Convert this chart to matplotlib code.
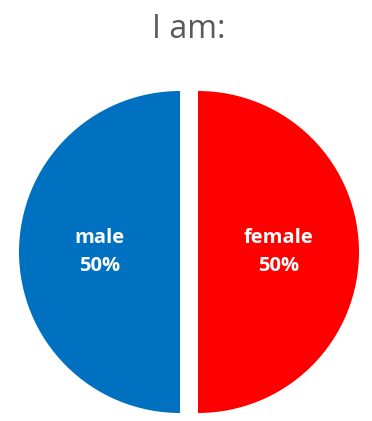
import matplotlib.pyplot as plt

labels = ['male', 'female']
values = [50, 50]
colors = ['#0070C0', '#FF0000']

W, H = 372, 421
fig = plt.figure(figsize=(W / 100, H / 100), dpi=100)
ax = fig.add_axes([0, 0, 1, 1])


def make_label(pct, it=iter(labels)):
    return f"{next(it)}\n{pct:.0f}%"


wedges, texts, autotexts = ax.pie(
    values, colors=colors, startangle=90, counterclock=True,
    center=(189, H - 252), radius=161, explode=[9, 9],
    autopct=make_label, pctdistance=0.5, frame=True,
    wedgeprops=dict(linewidth=0))
ax.set_xlim(0, W)
ax.set_ylim(0, H)
ax.set_aspect('equal')
ax.axis('off')

for t in autotexts:
    t.set_color('white')
    t.set_fontweight('bold')
    t.set_fontsize(14.5)
    t.set_family('Open Sans')
    t.set_linespacing(1.5)

ax.text(189, H - 30, 'I am:', ha='center', va='center', fontsize=23,
        color='#595959', family='Open Sans')

plt.savefig('out.png', dpi=100)
